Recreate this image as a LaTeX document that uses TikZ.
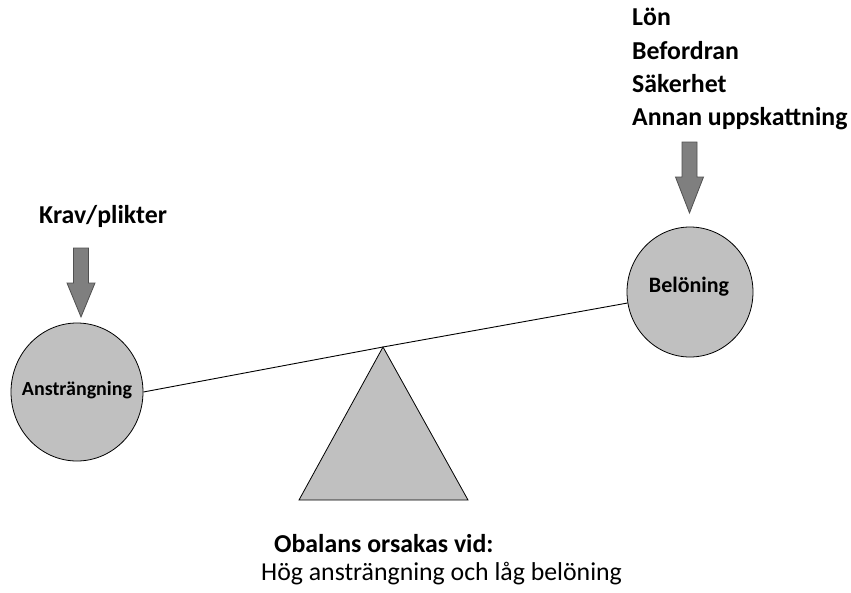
\documentclass[tikz,border=0pt]{standalone}
\usepackage{fontspec}
\setmainfont{Carlito}
\usetikzlibrary{shapes.geometric}
\definecolor{ballgray}{HTML}{C0C0C0}
\definecolor{arrowfill}{HTML}{7F7F7F}
\definecolor{arrowline}{HTML}{505050}
\tikzset{
  ball/.style={ellipse, draw=black, line width=0.8pt, fill=ballgray, inner sep=0pt},
  balllabel/.style={font=\bfseries\fontsize{20}{22}\selectfont, inner sep=0pt},
  headtext/.style={font=\bfseries\fontsize{25.8}{30}\selectfont, inner sep=0pt, anchor=base west},
  bigarrow/.style={fill=arrowfill, draw=arrowline, line width=0.8pt},
  beam/.style={line width=0.9pt, draw=black},
  fulcrum/.style={fill=ballgray, draw=black, line width=0.8pt},
}
\begin{document}
\begin{tikzpicture}[x=1pt,y=-1pt]
\useasboundingbox (0,0) rectangle (851,592);
% circles
\node[ball, minimum width=132pt, minimum height=138pt] (ans) at (77,392) {};
\node[ball, minimum width=126pt, minimum height=130pt] (bel) at (690,292) {};
\node[balllabel, anchor=base] (anslbl) at (77,395) {Ansträngning};
\node[balllabel, anchor=base, font=\bfseries\fontsize{22}{24}\selectfont] (bellbl) at (689,292) {Belöning};
% beam
\coordinate (apex) at (383,347);
\draw[beam] (ans.east) -- (apex) -- (bel.190);
% fulcrum
\coordinate (bl) at (299,500);
\coordinate (br) at (468,500);
\draw[fulcrum] (apex) -- (br) -- (bl) -- cycle;
% arrows
\draw[bigarrow] (73.5,248) -- (88.5,248) -- (88.5,283) -- (95,283) -- (81,317) -- (67,283) -- (73.5,283) -- cycle;
\draw[bigarrow] (682,142) -- (697,142) -- (697,177) -- (703.5,177) -- (689.5,213) -- (675.5,177) -- (682,177) -- cycle;
% texts
\node[headtext] (krav) at (39,223) {Krav/plikter};
\node[headtext] (lon) at (632,25) {Lön};
\node[headtext] (bef) at (632,59) {Befordran};
\node[headtext] (sak) at (632,92) {Säkerhet};
\node[headtext] (ann) at (632,125) {Annan uppskattning};
\node[headtext] (obal) at (274,552) {Obalans orsakas vid:};
\node[font=\fontsize{25.8}{30}\selectfont, inner sep=0pt, anchor=base west] (hog) at (261,580) {Hög ansträngning och låg belöning};
\end{tikzpicture}
\end{document}
